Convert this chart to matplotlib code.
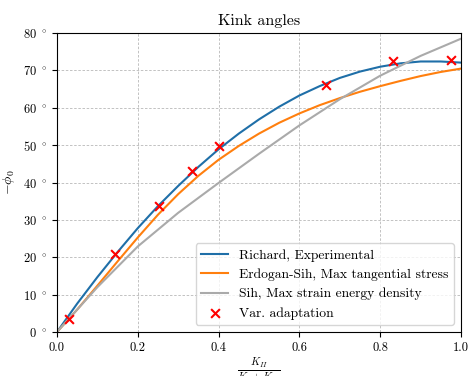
import matplotlib
matplotlib.use("Agg")
import matplotlib.pyplot as plt
from matplotlib.ticker import FuncFormatter

plt.rcParams['font.family'] = 'serif'
plt.rcParams['font.serif'] = ['cmr10']
plt.rcParams['mathtext.fontset'] = 'cm'
plt.rcParams['axes.formatter.use_mathtext'] = True

# mode mixity KII/(KI+KII)
ratio = [0.0, 0.05, 0.1, 0.15, 0.2, 0.25, 0.3, 0.35, 0.4, 0.45, 0.5,
         0.55, 0.6, 0.65, 0.7, 0.75, 0.8, 0.85, 0.9, 0.95, 1.0]
richard = [0.0, 7.6, 14.7, 21.4, 27.8, 33.7, 39.1, 44.2, 48.9, 53.1, 56.9,
           60.3, 63.3, 65.8, 68.0, 69.7, 71.0, 71.9, 72.4, 72.4, 72.1]
mts = [0.0, 6.0, 12.4, 18.9, 25.3, 31.4, 36.9, 41.8, 46.1, 49.8, 53.1,
       56.0, 58.5, 60.7, 62.6, 64.3, 65.8, 67.2, 68.5, 69.6, 70.5]

ratio_sed = [0.0, 0.1, 0.2, 0.3, 0.4, 0.5, 0.6, 0.7, 0.8, 0.9, 1.0]
sed = [0.0, 12.0, 22.9, 31.9, 39.9, 47.7, 55.3, 62.3, 68.6, 73.9, 78.5]

var_x = [0.03, 0.143, 0.252, 0.333, 0.401, 0.666, 0.832, 0.975]
var_y = [3.6, 21.0, 33.7, 43.1, 49.8, 66.0, 72.5, 72.9]

fig = plt.figure(figsize=(4.69, 3.76), dpi=100)
ax = fig.add_axes([0.1215, 0.117, 0.8615, 0.795])

ax.plot(ratio, richard, color='#1f6fa8', lw=1.5, label='Richard, Experimental')
ax.plot(ratio, mts, color='#ff7f0e', lw=1.5, label='Erdogan-Sih, Max tangential stress')
ax.plot(ratio_sed, sed, color='#aaaaaa', lw=1.5, label='Sih, Max strain energy density')
ax.scatter(var_x, var_y, marker='x', color='red', s=40, linewidths=1.5,
           label='Var. adaptation', zorder=5)

ax.set_xlim(0, 1)
ax.set_ylim(0, 80)
ax.set_xticks([0.0, 0.2, 0.4, 0.6, 0.8, 1.0])
ax.set_yticks(range(0, 81, 10))
ax.yaxis.set_major_formatter(FuncFormatter(lambda v, p: r'%d $^\circ$' % v))
ax.xaxis.set_major_formatter(FuncFormatter(lambda v, p: '%.1f' % v))
ax.tick_params(labelsize=9)
ax.grid(True, ls=(0, (3, 2)), color='#b8b8b8', lw=0.6)

ax.set_title('Kink angles', fontsize=11.5)
ax.set_ylabel(r'$-\phi_0$', fontsize=10)
ax.set_xlabel(r'$\frac{K_{II}}{K_I+K_{II}}$', fontsize=11, labelpad=2)
ax.legend(loc='lower right', fontsize=9.8)

fig.savefig('out.png', dpi=100)
